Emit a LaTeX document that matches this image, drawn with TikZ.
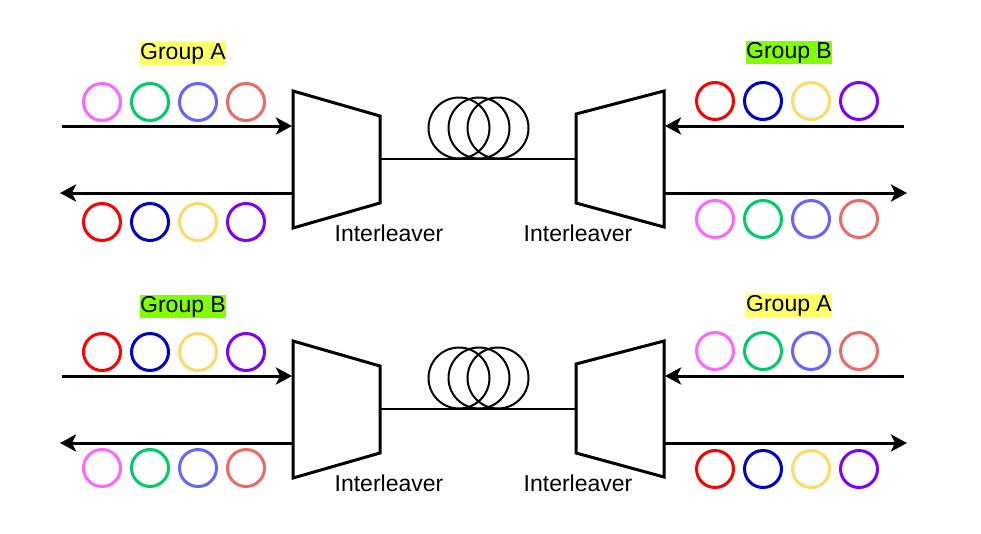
\documentclass[tikz,border=0pt]{standalone}
\usepackage{fontspec}
\setmainfont{Liberation Sans}
\usetikzlibrary{arrows.meta}
\definecolor{cpink}{HTML}{FF66FF}
\definecolor{cgreen}{HTML}{00CC66}
\definecolor{cblue}{HTML}{6666FF}
\definecolor{csalmon}{HTML}{EA6B66}
\definecolor{cred}{HTML}{FF0000}
\definecolor{cdblue}{HTML}{0000CC}
\definecolor{cyellow}{HTML}{FFD966}
\definecolor{cpurple}{HTML}{7F00FF}
\definecolor{hlA}{HTML}{FFFF66}
\definecolor{hlB}{HTML}{80FF00}
\def\grpA{cpink,cgreen,cblue,csalmon}
\def\grpB{cred,cdblue,cyellow,cpurple}
\newcommand\ringrow[3]{\edef\rowlist{\csname grp#3\endcsname}\foreach \c [count=\i from 0] in \rowlist \draw[ring,\c] (#1+48*\i,#2) circle (18.5);}
\tikzset{
  sig/.style={line width=3pt,-{Stealth[length=16pt,width=17pt,inset=4pt]}},
  ileave/.style={line width=3pt,line join=miter},
  ring/.style={line width=3pt},
  fiber/.style={line width=2pt},
  lbl/.style={font=\fontsize{23}{27}\selectfont,inner sep=0pt},
  grp/.style={lbl,text height=17pt,text depth=5pt,inner xsep=0.5pt,inner ysep=0.5pt}
}
\begin{document}
\begin{tikzpicture}[x=1pt,y=-1pt]
  \useasboundingbox (0,0) rectangle (981,533);
  \foreach \dy/\la/\lb/\lowL/\gy in {0/A/B/222/53, 250/B/A/218/56} {
  \begin{scope}[shift={(0,\dy)}]
    \draw [ileave] (293,91) -- (380,116) -- (380,203) -- (293,228) -- cycle;
    \draw [ileave] (576,114) -- (664,91) -- (664,227) -- (576,203) -- cycle;
    \coordinate (muxLo) at (380,159);
    \coordinate (muxRo) at (576,159);
    \draw [fiber] (muxLo) -- (muxRo);
    \foreach \cx in {459,479,498} \draw [fiber] (\cx,128) circle (30.5);
    \coordinate (inL) at (62,126);
    \coordinate (outL) at (60,193);
    \coordinate (inR) at (904,126);
    \coordinate (outR) at (907,193);
    \coordinate (muxLi) at (292,126);
    \coordinate (muxLe) at (293,193);
    \coordinate (muxRi) at (665,126);
    \coordinate (muxRe) at (664,193);
    \draw [sig] (inL) -- (muxLi);
    \draw [sig] (muxLe) -- (outL);
    \draw [sig] (inR) -- (muxRi);
    \draw [sig] (muxRe) -- (outR);
    \ringrow{102}{102}{\la}
    \ringrow{102}{\lowL}{\lb}
    \ringrow{715}{101}{\lb}
    \ringrow{715}{219}{\la}
    \node [grp,fill=hl\la] (grpL) at (183,\gy) {Group \la};
    \node [grp,fill=hl\lb] (grpR) at (789,\gy-1) {Group \lb};
    \node [lbl] (ilL) at (389,233) {Interleaver};
    \node [lbl] (ilR) at (578,233) {Interleaver};
  \end{scope}
  }
\end{tikzpicture}
\end{document}
